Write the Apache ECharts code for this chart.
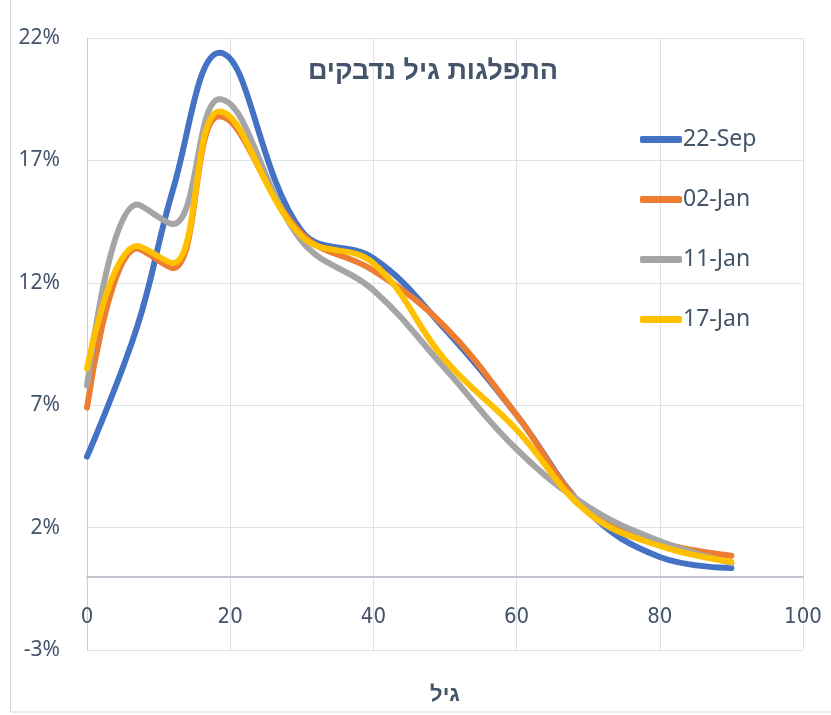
<!DOCTYPE html>
<html>
<head>
<meta charset="utf-8">
<script src="https://cdn.jsdelivr.net/npm/echarts@6/dist/echarts.min.js"></script>
<style>
  html, body { margin: 0; padding: 0; background: #fff; }
  #chart { width: 831px; height: 715px; }
</style>
</head>
<body>
<div id="chart"></div>
<script>
// ages (x) and share of cases per age group (%)
const ages = [0, 7, 12, 18.5, 30, 40, 50, 60, 70, 80, 90];
const sep22 = [4.9, 10.2, 15.8, 21.4, 14.1, 13.0, 10.1, 6.6, 2.65, 0.8, 0.35];
const jan02 = [6.9, 13.4, 12.6, 18.8, 14.0, 12.5, 10.2, 6.6, 2.7, 1.4, 0.85];
const jan11 = [7.8, 15.2, 14.4, 19.5, 13.7, 11.7, 8.5, 5.2, 2.85, 1.45, 0.55];
const jan17 = [8.5, 13.5, 12.8, 19.0, 13.9, 12.8, 8.85, 6.0, 2.6, 1.25, 0.6];
const seriesNames = ['22-Sep', '02-Jan', '11-Jan', '17-Jan'];
const colors = ['#4472c4', '#ed7d31', '#a5a5a5', '#ffc000'];

const chart = echarts.init(document.getElementById('chart'));

function pairs(vals) {
  return ages.map((a, i) => [a, vals[i]]);
}

const textColor = '#44546a';
const gridColor = '#dde2ea';

const option = {
  animation: false,
  color: colors,
  title: {
    text: 'התפלגות גיל נדבקים',
    left: 428,
    textAlign: 'center',
    top: 53,
    textStyle: {
      fontFamily: 'Liberation Sans, DejaVu Sans',
      fontSize: 27,
      fontWeight: 'bold',
      color: textColor
    }
  },
  legend: {
    orient: 'vertical',
    left: 635,
    top: 123,
    itemGap: 37,
    itemWidth: 42,
    itemHeight: 7,
    icon: 'roundRect',
    data: seriesNames,
    textStyle: {
      fontFamily: 'Noto Sans',
      fontSize: 23,
      color: textColor,
      padding: [0, 0, 0, -4]
    }
  },
  grid: {
    left: 87,
    right: 28,
    top: 38,
    bottom: 65,
    outerBoundsMode: 'none'
  },
  xAxis: {
    type: 'value',
    min: 0,
    max: 100,
    interval: 20,
    name: 'גיל',
    nameLocation: 'middle',
    nameGap: 34,
    nameTextStyle: {
      fontFamily: 'Liberation Sans, DejaVu Sans',
      fontSize: 22,
      fontWeight: 'bold',
      color: textColor
    },
    axisLine: { onZero: true, lineStyle: { color: '#bfc6d2', width: 2 } },
    axisTick: { show: false },
    axisLabel: {
      margin: -44,
      fontFamily: 'Liberation Sans Narrow, DejaVu Sans Condensed',
      fontSize: 22,
      color: textColor
    },
    splitLine: { lineStyle: { color: gridColor, width: 1 } }
  },
  yAxis: {
    type: 'value',
    min: -3,
    max: 22,
    interval: 5,
    axisLine: { show: true, lineStyle: { color: '#c9d0db', width: 1 } },
    axisTick: { show: false },
    axisLabel: {
      margin: 27,
      fontFamily: 'Noto Sans',
      fontSize: 21,
      color: textColor,
      formatter: v => v + '%'
    },
    splitLine: { lineStyle: { color: gridColor, width: 1 } }
  },
  graphic: [{
    type: 'rect',
    shape: { x: 10.5, y: -5, width: 830, height: 717 },
    style: { fill: 'none', stroke: '#d9d9d9', lineWidth: 1 },
    silent: true,
    z: -1
  }],
  series: seriesNames.map((name, i) => ({
    name: name,
    type: 'line',
    smooth: 0.4,
    showSymbol: false,
    symbol: 'none',
    lineStyle: { width: 6, cap: 'round' },
    data: pairs([sep22, jan02, jan11, jan17][i])
  }))
};

chart.setOption(option);
</script>
</body>
</html>
